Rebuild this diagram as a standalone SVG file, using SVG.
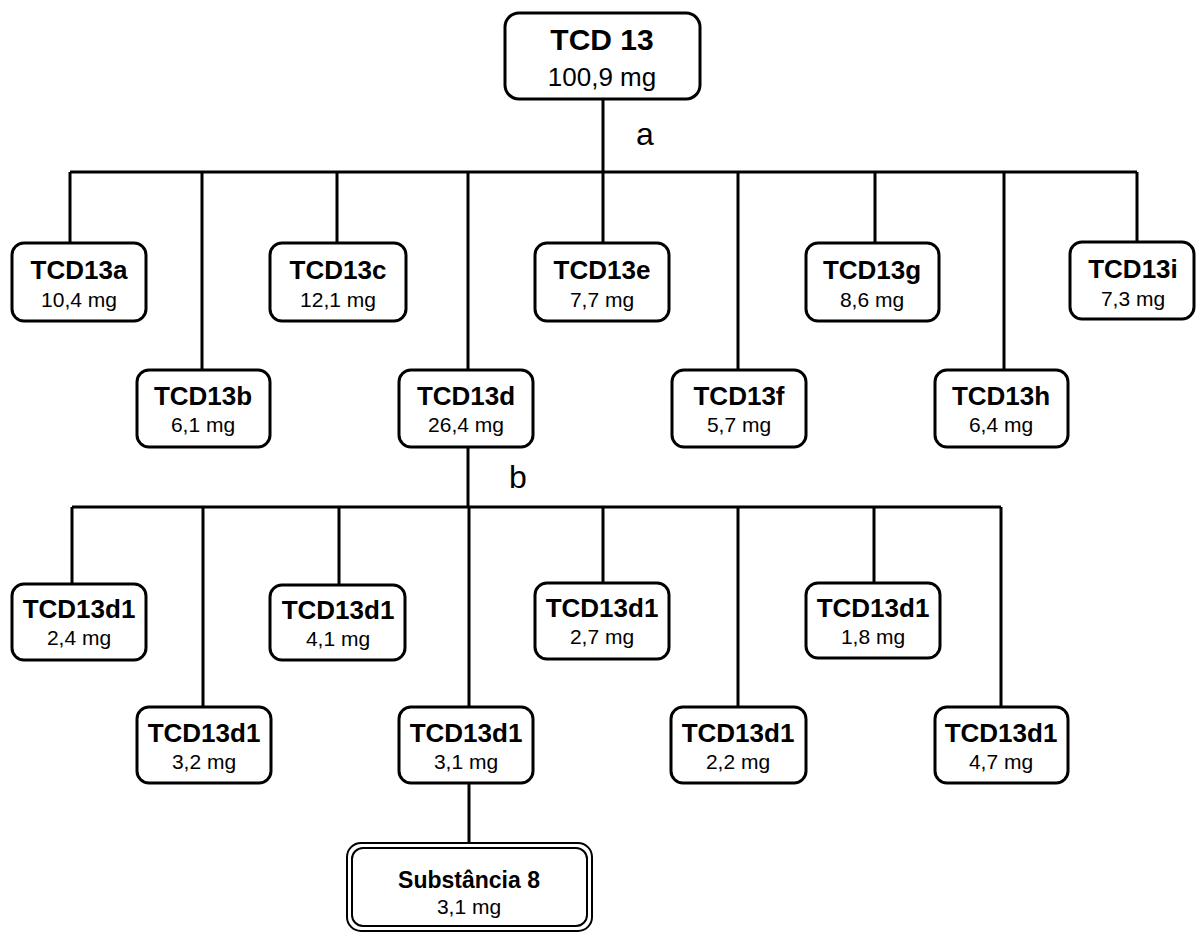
<svg xmlns="http://www.w3.org/2000/svg" width="1196" height="933" viewBox="0 0 1196 933">
  <style>
    .box { fill: #fff; stroke: #000; stroke-width: 3; }
    .wire { fill: none; stroke: #000; stroke-width: 3; }
    .t { font-family: "Liberation Sans", Arial, sans-serif; font-weight: bold; font-size: 26px; text-anchor: middle; fill: #000; }
    .m { font-family: "Liberation Sans", Arial, sans-serif; font-size: 21px; text-anchor: middle; fill: #000; }
    .lbl { font-family: "Liberation Sans", Arial, sans-serif; font-size: 32px; text-anchor: middle; fill: #000; }
  </style>
  <rect width="1196" height="933" fill="#fff"/>

  <!-- connectors -->
  <g id="connectors" class="wire">
    <path d="M603 99 V172"/>
    <path d="M70 172 H1137"/>
    <path d="M70 172 V243 M337 172 V243 M603 172 V243 M875 172 V243 M1137 172 V243"/>
    <path d="M202 172 V370 M468 172 V370 M738 172 V370 M1004 172 V370"/>
    <path d="M468 447 V507"/>
    <path d="M72 507 H1001"/>
    <path d="M72 507 V584 M339 507 V584 M603 507 V584 M874 507 V584"/>
    <path d="M203 507 V707 M469 507 V707 M738 507 V707 M1001 507 V707"/>
    <path d="M469 783 V843"/>
  </g>
  <text class="lbl" x="645" y="145">a</text>
  <text class="lbl" x="518" y="488">b</text>

  <!-- root -->
  <g id="tcd13">
    <rect class="box" x="505" y="13" width="195" height="86" rx="14"/>
    <text class="t" x="602" y="50" style="font-size:30px">TCD 13</text>
    <text class="m" x="602" y="86" style="font-size:26px">100,9 mg</text>
  </g>

  <!-- first fractionation -->
  <g id="tcd13a">
    <rect class="box" x="12" y="243" width="134" height="78" rx="12"/>
    <text class="t" x="79" y="279">TCD13a</text>
    <text class="m" x="79" y="307">10,4 mg</text>
  </g>
  <g id="tcd13b">
    <rect class="box" x="137" y="370" width="133" height="77" rx="12"/>
    <text class="t" x="203" y="405">TCD13b</text>
    <text class="m" x="203" y="432">6,1 mg</text>
  </g>
  <g id="tcd13c">
    <rect class="box" x="270" y="243" width="136" height="78" rx="12"/>
    <text class="t" x="338" y="279">TCD13c</text>
    <text class="m" x="338" y="307">12,1 mg</text>
  </g>
  <g id="tcd13d">
    <rect class="box" x="399" y="370" width="134" height="77" rx="12"/>
    <text class="t" x="466" y="405">TCD13d</text>
    <text class="m" x="466" y="432">26,4 mg</text>
  </g>
  <g id="tcd13e">
    <rect class="box" x="535" y="243" width="134" height="78" rx="12"/>
    <text class="t" x="602" y="279">TCD13e</text>
    <text class="m" x="602" y="307">7,7 mg</text>
  </g>
  <g id="tcd13f">
    <rect class="box" x="672" y="370" width="134" height="77" rx="12"/>
    <text class="t" x="739" y="405">TCD13f</text>
    <text class="m" x="739" y="432">5,7 mg</text>
  </g>
  <g id="tcd13g">
    <rect class="box" x="806" y="243" width="133" height="78" rx="12"/>
    <text class="t" x="872" y="279">TCD13g</text>
    <text class="m" x="872" y="307">8,6 mg</text>
  </g>
  <g id="tcd13h">
    <rect class="box" x="935" y="370" width="133" height="77" rx="12"/>
    <text class="t" x="1001" y="405">TCD13h</text>
    <text class="m" x="1001" y="432">6,4 mg</text>
  </g>
  <g id="tcd13i">
    <rect class="box" x="1070" y="242" width="124" height="77" rx="12"/>
    <text class="t" x="1133" y="278">TCD13i</text>
    <text class="m" x="1133" y="306">7,3 mg</text>
  </g>

  <!-- second fractionation -->
  <g id="tcd13d1-1">
    <rect class="box" x="12" y="584" width="134" height="76" rx="12"/>
    <text class="t" x="79" y="618">TCD13d1</text>
    <text class="m" x="79" y="645">2,4 mg</text>
  </g>
  <g id="tcd13d1-2">
    <rect class="box" x="137" y="707" width="134" height="76" rx="12"/>
    <text class="t" x="204" y="742">TCD13d1</text>
    <text class="m" x="204" y="769">3,2 mg</text>
  </g>
  <g id="tcd13d1-3">
    <rect class="box" x="270" y="585" width="135" height="75" rx="12"/>
    <text class="t" x="338" y="619">TCD13d1</text>
    <text class="m" x="338" y="646">4,1 mg</text>
  </g>
  <g id="tcd13d1-4">
    <rect class="box" x="399" y="707" width="134" height="76" rx="12"/>
    <text class="t" x="466" y="742">TCD13d1</text>
    <text class="m" x="466" y="769">3,1 mg</text>
  </g>
  <g id="tcd13d1-5">
    <rect class="box" x="535" y="583" width="134" height="76" rx="12"/>
    <text class="t" x="602" y="617">TCD13d1</text>
    <text class="m" x="602" y="644">2,7 mg</text>
  </g>
  <g id="tcd13d1-6">
    <rect class="box" x="671" y="707" width="135" height="76" rx="12"/>
    <text class="t" x="738" y="742">TCD13d1</text>
    <text class="m" x="738" y="769">2,2 mg</text>
  </g>
  <g id="tcd13d1-7">
    <rect class="box" x="806" y="583" width="134" height="75" rx="12"/>
    <text class="t" x="873" y="617">TCD13d1</text>
    <text class="m" x="873" y="644">1,8 mg</text>
  </g>
  <g id="tcd13d1-8">
    <rect class="box" x="935" y="707" width="133" height="76" rx="12"/>
    <text class="t" x="1001" y="742">TCD13d1</text>
    <text class="m" x="1001" y="769">4,7 mg</text>
  </g>

  <!-- isolated compound -->
  <g id="substancia-8">
    <rect x="347" y="843" width="245" height="88" rx="14" fill="#fff" stroke="#000" stroke-width="2"/>
    <rect x="352" y="848" width="235" height="78" rx="11" fill="none" stroke="#000" stroke-width="2"/>
    <text class="t" x="469" y="888" style="font-size:23px">Substância 8</text>
    <text class="m" x="469" y="914">3,1 mg</text>
  </g>
</svg>
